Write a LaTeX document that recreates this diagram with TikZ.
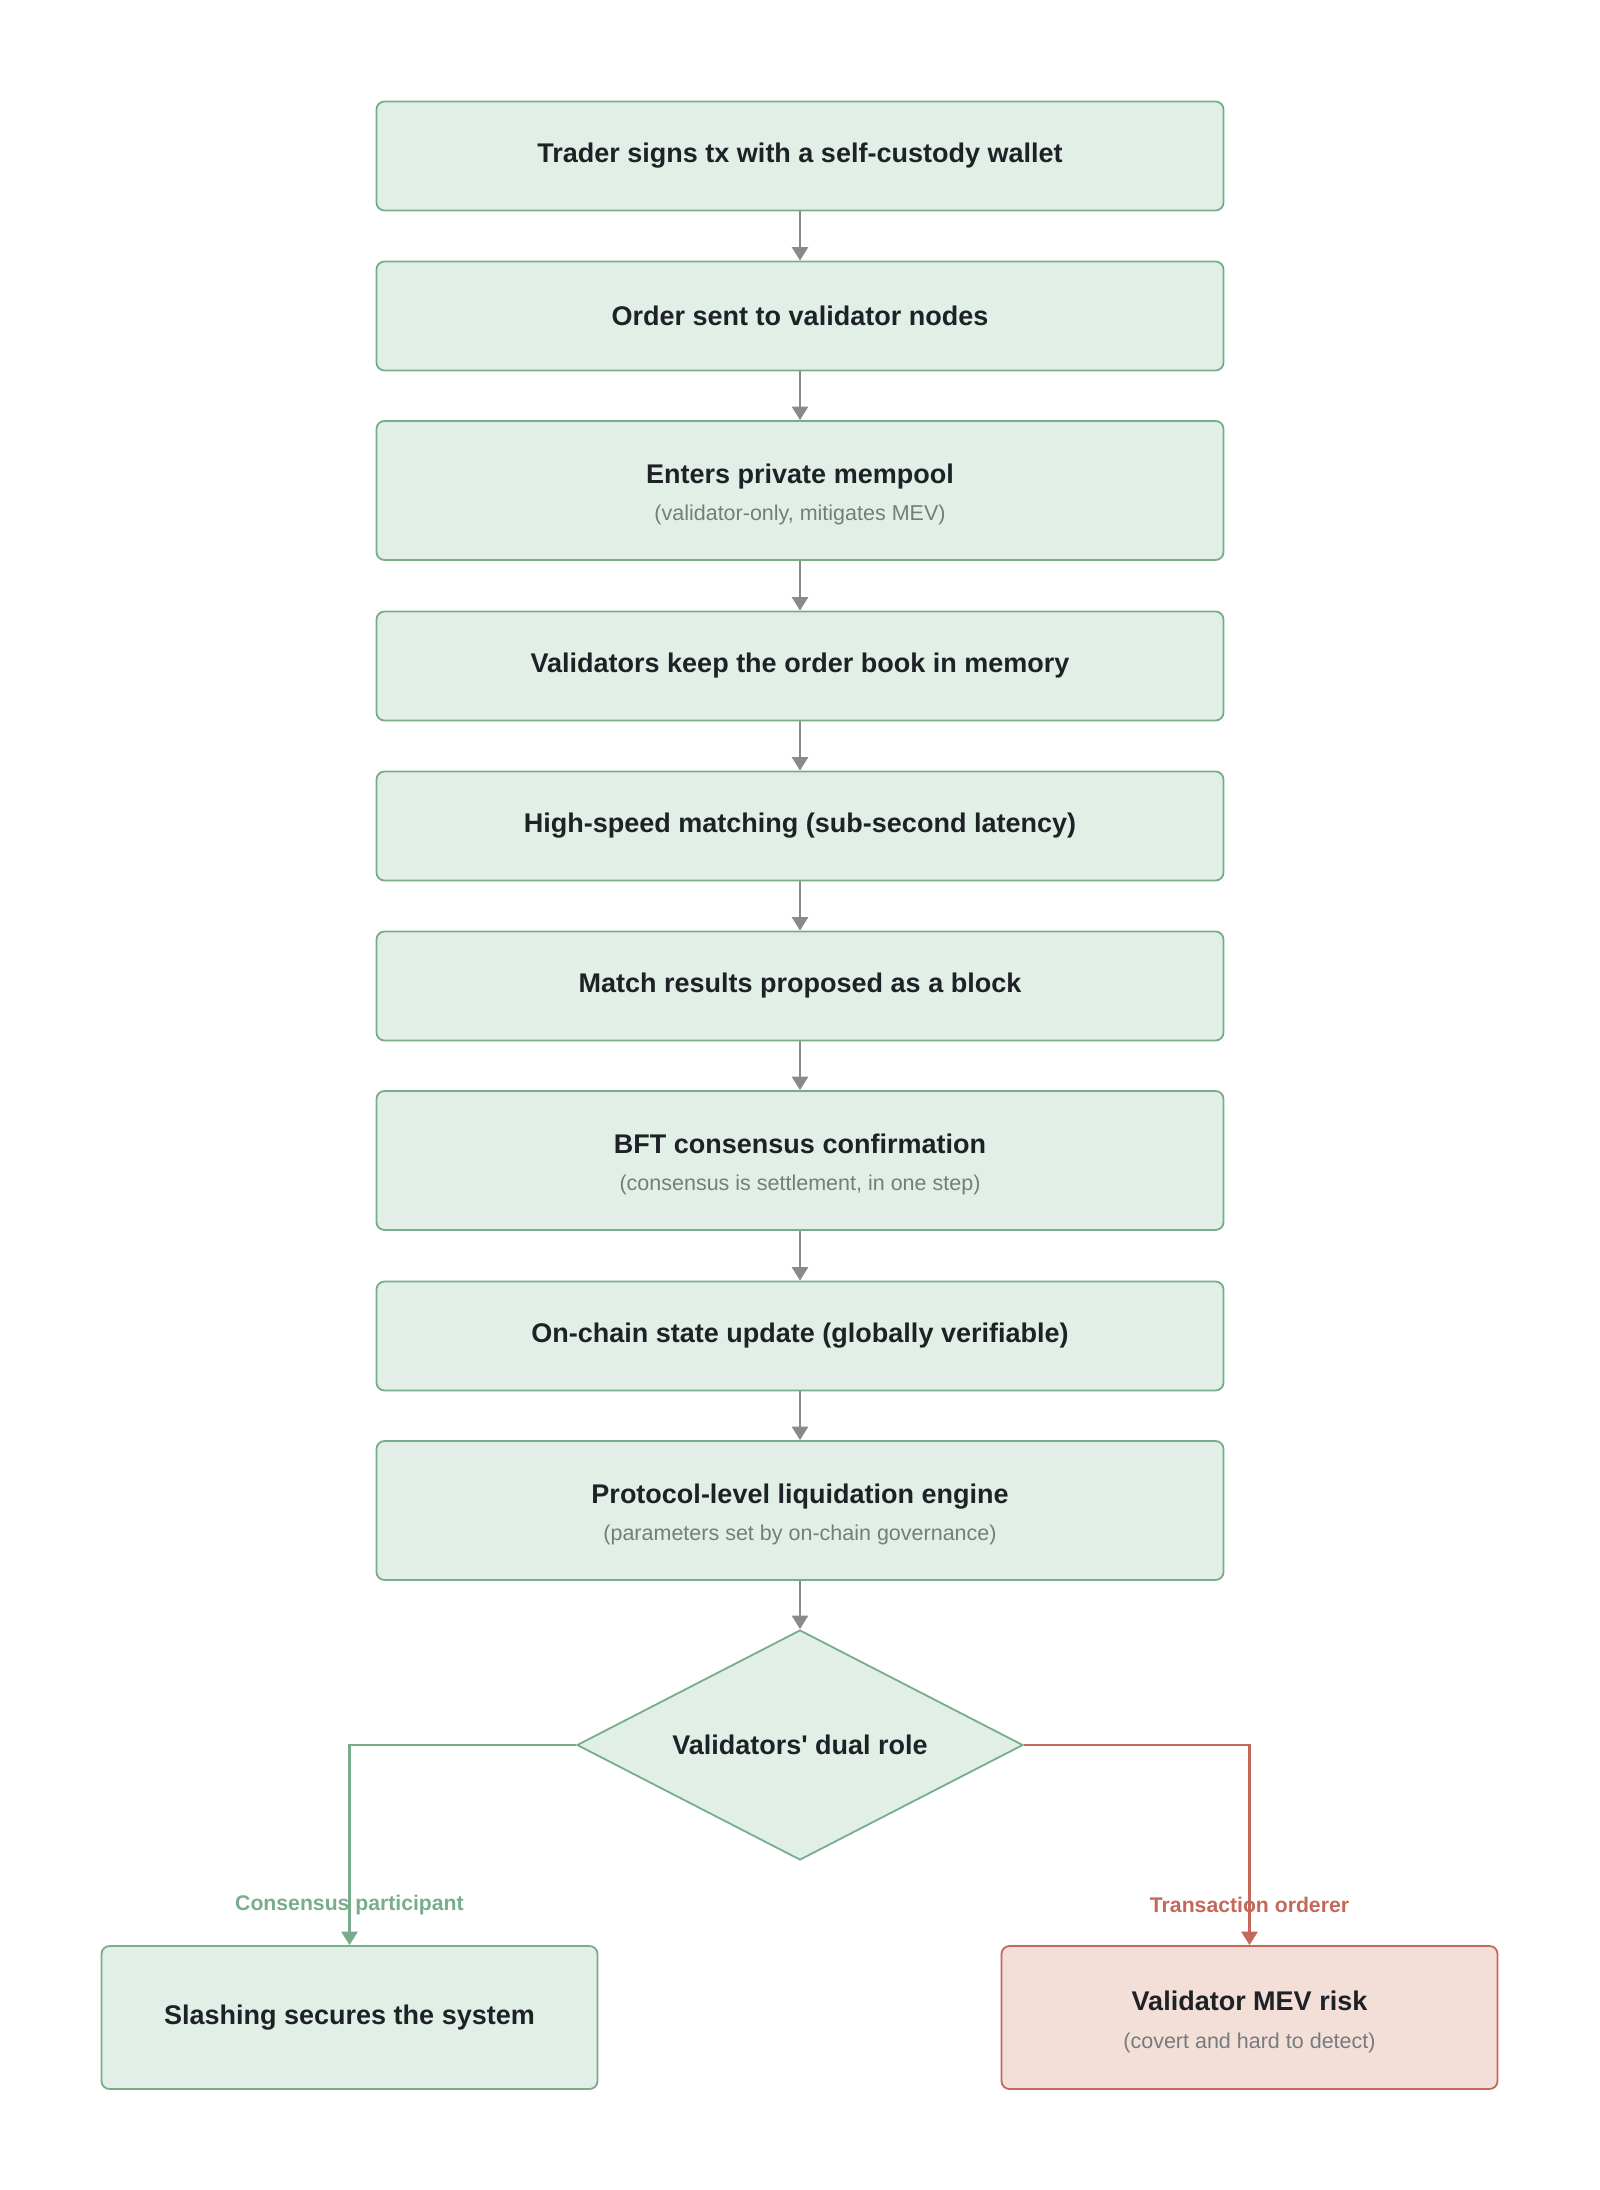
\documentclass[tikz,border=0pt]{standalone}
\usepackage{fontspec}
\setmainfont{Liberation Sans}[Ligatures=TeXOff]
\usepackage{xcolor}
\usetikzlibrary{shapes.geometric,arrows.meta}

\definecolor{stepfill}{HTML}{E2EFE7}
\definecolor{stepline}{HTML}{78AD8C}
\definecolor{riskfill}{HTML}{F3DED8}
\definecolor{riskline}{HTML}{C3695A}
\definecolor{flowgray}{HTML}{8A8A8A}
\definecolor{titleink}{HTML}{1E2227}
\definecolor{noteink}{HTML}{767C7E}

\newcommand{\boxnote}[1]{\\[2.75pt]{\fontsize{10.75}{12}\mdseries\selectfont\color{noteink}#1}}

\tikzset{%
  stepbox/.style={rectangle, rounded corners=4pt, draw=stepline, fill=stepfill, line width=0.9pt,
    minimum width=423.5pt, minimum height=54.5pt, align=center, text=titleink,
    font=\fontsize{13.5}{16}\bfseries\selectfont},
  tallbox/.style={stepbox, minimum height=69.5pt, text height=32.7pt},
  endbox/.style={stepbox, minimum width=248pt, minimum height=71.5pt},
  riskbox/.style={endbox, draw=riskline, fill=riskfill, text height=32.7pt},
  choice/.style={diamond, aspect=1.94, draw=stepline, fill=stepfill, line width=0.9pt, inner sep=0pt,
    minimum width=223pt, minimum height=115pt, text=titleink,
    font=\fontsize{13.5}{16}\bfseries\selectfont},
  flow/.style={draw=flowgray, line width=1.1pt, -{Triangle[length=6.7pt,width=8pt]}},
  yesflow/.style={flow, draw=stepline, line width=1.3pt},
  noflow/.style={flow, draw=riskline, line width=1.3pt},
  branch label/.style={font=\fontsize{10.6}{12}\bfseries\selectfont}
}

\begin{document}
\begin{tikzpicture}[x=0.5pt, y=-0.5pt]
    % \draw[help lines, gray] (0, 0) grid[step=100pt] (1600, 2190);
    \useasboundingbox (0, 0) rectangle (1600, 2190);

    \node[stepbox] (wallet) at (800, 156) {Trader signs tx with a self-custody wallet};
    \node[stepbox] (sent) at (800, 316) {Order sent to validator nodes};
    \node[tallbox] (mempool) at (800, 490.5) {Enters private mempool\boxnote{(validator-only, mitigates MEV)}};
    \node[stepbox] (book) at (800, 666) {Validators keep the order book in memory};
    \node[stepbox] (match) at (800, 826) {High-speed matching (sub-second latency)};
    \node[stepbox] (block) at (800, 986) {Match results proposed as a block};
    \node[tallbox] (bft) at (800, 1160.5) {BFT consensus confirmation\boxnote{(consensus is settlement, in one step)}};
    \node[stepbox] (state) at (800, 1336) {On-chain state update (globally verifiable)};
    \node[tallbox] (liq) at (800, 1510.5) {Protocol-level liquidation engine\boxnote{(parameters set by on-chain governance)}};
    \node[choice] (dual) at (800, 1745) {Validators' dual role};

    \node[endbox] (slash) at (349.5, 2017.5) {Slashing secures the system};
    \node[riskbox] (mev) at (1249.5, 2017.5) {Validator MEV risk\boxnote{(covert and hard to detect)}};

    \draw[flow] (wallet) -- (sent);
    \draw[flow] (sent) -- (mempool);
    \draw[flow] (mempool) -- (book);
    \draw[flow] (book) -- (match);
    \draw[flow] (match) -- (block);
    \draw[flow] (block) -- (bft);
    \draw[flow] (bft) -- (state);
    \draw[flow] (state) -- (liq);
    \draw[flow] (liq) -- (dual);

    \draw[yesflow] (dual.west) -| (slash.north);
    \draw[noflow] (dual.east) -| (mev.north);
    \node[branch label, text=stepline] (yeslbl) at (349.5, 1905) {Consensus participant};
    \node[branch label, text=riskline] (nolbl) at (1249.5, 1905) {Transaction orderer};
\end{tikzpicture}
\end{document}
